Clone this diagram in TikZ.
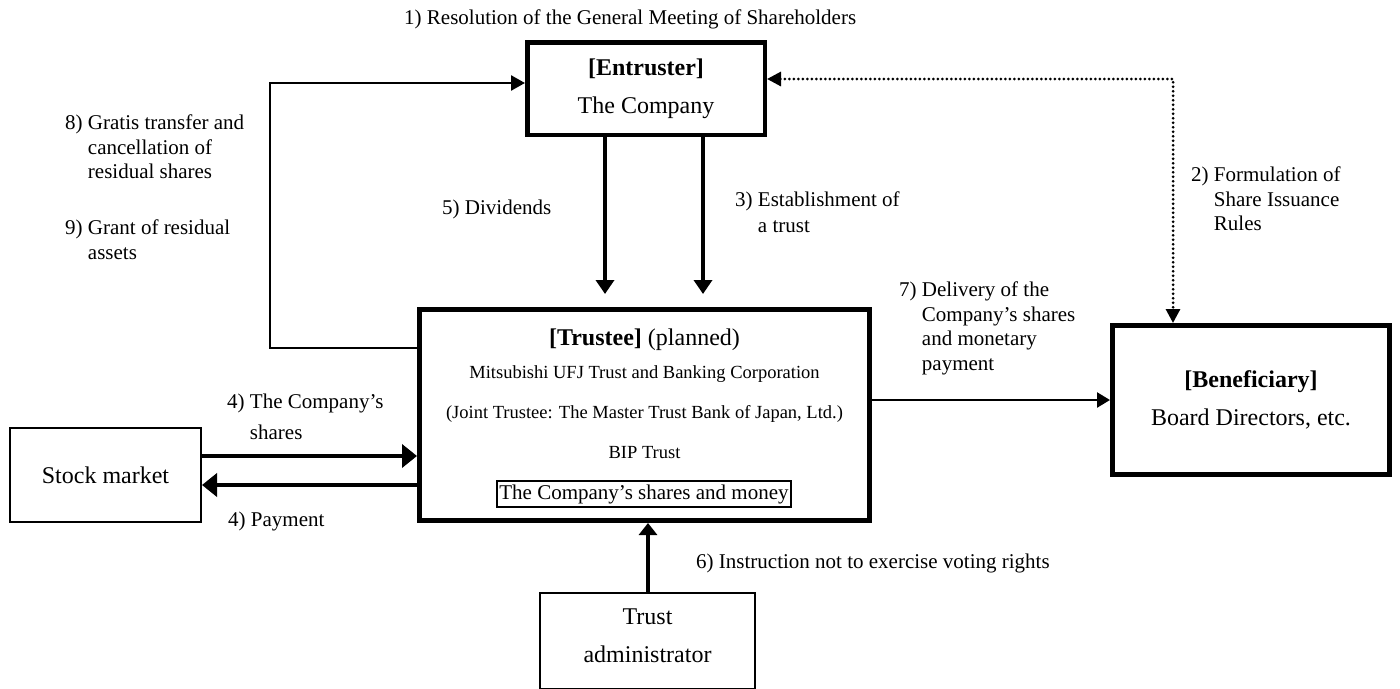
\documentclass[tikz,border=0pt]{standalone}
\usepackage{fontspec}
\setmainfont{Liberation Serif}
\usetikzlibrary{arrows.meta}
\tikzset{
  thickbox/.style={draw, line width=#1, inner sep=0pt},
  thinbox/.style={draw, line width=2pt, inner sep=0pt},
  lbl/.style={anchor=base west, inner sep=0pt, font=\fontsize{21}{24.5}\selectfont},
  boxtext/.style={font=\fontsize{24}{38}\selectfont, align=center},
  smalltext/.style={anchor=base, inner sep=0pt, font=\fontsize{18.5}{22}\selectfont},
  arrdown/.style={line width=3.5pt, -{Triangle[length=14pt,width=18pt]}},
  arrloop/.style={line width=2.5pt, -{Triangle[length=14pt,width=15pt]}},
  arrstock/.style={line width=4pt, -{Triangle[length=15pt,width=23pt]}},
  arrup/.style={line width=3.5pt, -{Triangle[length=12pt,width=18pt]}},
  arrdeliv/.style={line width=2.5pt, -{Triangle[length=13pt,width=15pt]}},
  arrdot/.style={line width=3pt, line cap=round, dash pattern=on 0pt off 4.5pt, {Triangle[length=14pt,width=14pt]}-{Triangle[length=14pt,width=14pt]}},
}
\begin{document}
\begin{tikzpicture}[x=1pt,y=-1pt]
\useasboundingbox (0,0) rectangle (1400,688);
\clip (0,0) rectangle (1400,688);

% boxes
\node[thickbox=4.5pt, minimum width=237.5pt, minimum height=92.5pt, boxtext] (entruster) at (646,88.5)
  {\textbf{[Entruster]}\\The Company};
\node[thickbox=5pt, minimum width=450pt, minimum height=211pt] (trustee) at (644.5,415) {};
\node[thickbox=5pt, minimum width=277pt, minimum height=149pt, boxtext] (benef) at (1251,400)
  {\textbf{[Beneficiary]}\\Board Directors, etc.};
\node[thinbox, minimum width=191pt, minimum height=94pt, boxtext] (stock) at (105.5,475) {Stock market};
\node[thinbox, minimum width=215pt, minimum height=96pt] (admin) at (647.5,641) {};
\node[boxtext, inner sep=0pt] (admintext) at (647.5,636) {Trust\\administrator};

% trustee contents
\node[anchor=base, inner sep=0pt, font=\fontsize{24}{28}\selectfont] (trtitle) at (644.5,345) {\textbf{[Trustee]} (planned)};
\node[smalltext] (trmuft) at (644.5,378.5) {Mitsubishi UFJ Trust and Banking Corporation};
\node[smalltext] (trjoint) at (644.5,418.5) {(Joint Trustee: The Master Trust Bank of Japan, Ltd.)};
\node[smalltext] (trbip) at (644.5,458.5) {BIP Trust};
\node[draw, line width=1.5pt, inner xsep=2.5pt, inner ysep=0pt, minimum height=26pt, font=\fontsize{21}{24}\selectfont] (trinner) at (644,494) {The Company’s shares and money};

% labels
\node[lbl] (l1) at (404,24.5) {1) Resolution of the General Meeting of Shareholders};
\node[lbl] (l8) at (65,129.5) {\begin{tabular}[t]{@{}l@{ }l@{}}8)&Gratis transfer and\\&cancellation of\\&residual shares\end{tabular}};
\node[lbl] (l9) at (65,234.5) {\begin{tabular}[t]{@{}l@{ }l@{}}9)&Grant of residual\\&assets\end{tabular}};
\node[lbl] (l5) at (442,214.5) {5) Dividends};
\node[lbl] (l3) at (735,206.5) {\begin{tabular}[t]{@{}l@{ }l@{}}3)&Establishment of\\[1.5pt]&a trust\end{tabular}};
\node[lbl] (l2) at (1191,181.5) {\begin{tabular}[t]{@{}l@{ }l@{}}2)&Formulation of\\&Share Issuance\\&Rules\end{tabular}};
\node[lbl] (l7) at (899,296.5) {\begin{tabular}[t]{@{}l@{ }l@{}}7)&Delivery of the\\&Company’s shares\\&and monetary\\&payment\end{tabular}};
\node[lbl] (l4a) at (227,408.5) {\begin{tabular}[t]{@{}l@{ }l@{}}4)&The Company’s\\[6.5pt]&shares\end{tabular}};
\node[lbl] (l4b) at (228,526.5) {4) Payment};
\node[lbl] (l6) at (696,568.5) {6) Instruction not to exercise voting rights};

% connectors
\draw[arrdown, shorten >=13pt] (entruster.south -| 605,0) -- (trustee.north -| 605,0);
\draw[arrdown, shorten >=13pt] (entruster.south -| 703,0) -- (trustee.north -| 703,0);
\draw[arrloop] (trustee.west |- 0,348) -- (270,348) -- (270,83) -- (entruster.west |- 0,83);
\draw[arrstock] (stock.east |- 0,456) -- (trustee.west |- 0,456);
\draw[arrstock] (trustee.west |- 0,485) -- (stock.east |- 0,485);
\draw[arrup] (admin.north -| 648,0) -- (trustee.south -| 648,0);
\draw[arrdeliv] (trustee.east |- 0,400) -- (benef.west |- 0,400);
\draw[arrdot] (entruster.east |- 0,79) -- (1173,79) -- (benef.north -| 1173,0);
\end{tikzpicture}
\end{document}
